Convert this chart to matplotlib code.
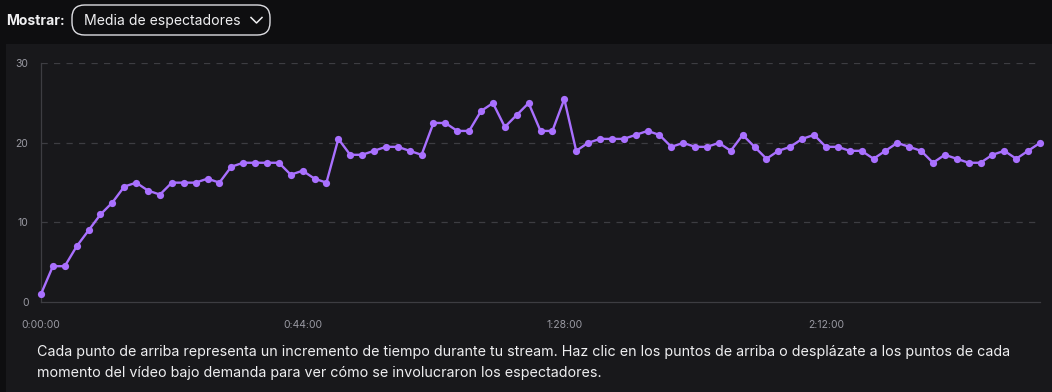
import matplotlib.pyplot as plt
import numpy as np
from matplotlib.patches import FancyBboxPatch, Rectangle
from matplotlib.ticker import FixedLocator, FuncFormatter

plt.rcParams['font.family'] = ['Inter', 'DejaVu Sans']

# media de espectadores, un punto cada 2 minutos
minutes_step = 2
viewers = [1, 4.5, 4.5, 7, 9, 11, 12.5, 14.5, 15, 14, 13.5, 15, 15, 15, 15.5, 15,
           17, 17.5, 17.5, 17.5, 17.5, 16, 16.5, 15.5, 15, 20.5, 18.5, 18.5, 19, 19.5,
           19.5, 19, 18.5, 22.5, 22.5, 21.5, 21.5, 24, 25, 22, 23.5, 25, 21.5, 21.5,
           25.5, 19, 20, 20.5, 20.5, 20.5, 21, 21.5, 21, 19.5, 20, 19.5, 19.5, 20, 19,
           21, 19.5, 18, 19, 19.5, 20.5, 21, 19.5, 19.5, 19, 19, 18, 19, 20, 19.5, 19,
           17.5, 18.5, 18, 17.5, 17.5, 18.5, 19, 18, 19, 20]
x_ticks = [0, 44, 88, 132]
y_ticks = [0, 10, 20, 30]

header_label = 'Mostrar:'
dropdown_label = 'Media de espectadores'
caption = ['Cada punto de arriba representa un incremento de tiempo durante tu stream. Haz clic en los puntos de arriba o desplázate a los puntos de cada',
           'momento del vídeo bajo demanda para ver cómo se involucraron los espectadores.']

W, H = 1052, 392
fig = plt.figure(figsize=(W / 100, H / 100), dpi=100)
fig.patch.set_facecolor('#0e0e10')

# panel del grafico
fig.patches.append(Rectangle((6 / W, 0), 1, (H - 44) / H, transform=fig.transFigure,
                             facecolor='#18181b', edgecolor='none', zorder=-1))

ax = fig.add_axes([41 / W, 90 / H, (1040 - 41) / W, (302 - 63.3) / H])
ax.set_facecolor('none')
ax.set_zorder(2)

t = np.arange(len(viewers)) * minutes_step
ax.plot(t, viewers, color='#a970ff', linewidth=1.7, marker='o', markersize=5.2,
        markeredgewidth=0, clip_on=False, zorder=3)

ax.set_xlim(0, t[-1])
ax.set_ylim(0, 30)
ax.xaxis.set_major_locator(FixedLocator(x_ticks))
ax.yaxis.set_major_locator(FixedLocator(y_ticks))
ax.xaxis.set_major_formatter(FuncFormatter(lambda v, p: f'{int(v) // 60}:{int(v) % 60:02d}:00'))

for y in y_ticks[1:]:
    ax.axhline(y, color='#3d3d42', linewidth=0.9, linestyle=(0, (5, 5)), zorder=1)

for s in ['top', 'right']:
    ax.spines[s].set_visible(False)
for s in ['left', 'bottom']:
    ax.spines[s].set_color('#3d3d42')
    ax.spines[s].set_linewidth(0.9)
ax.tick_params(axis='both', length=0, colors='#9a9aa3', labelsize=7.5)
ax.tick_params(axis='x', pad=13)
ax.tick_params(axis='y', pad=9)

# cabecera con el selector
fig.text(6 / W, 1 - 21 / H, header_label, color='#efeff1', fontsize=10, fontweight='bold',
         va='center', ha='left')
fig.patches.append(FancyBboxPatch((72 / W, 1 - 35 / H), (270 - 72) / W, 30 / H,
                                  boxstyle='round,pad=0,rounding_size=0.012',
                                  transform=fig.transFigure, facecolor='#0e0e10',
                                  edgecolor='#dedee3', linewidth=1.0, mutation_aspect=W / H))
fig.text(84 / W, 1 - 20.5 / H, dropdown_label, color='#efeff1', fontsize=10.1,
         va='center', ha='left')
fig.lines.append(plt.Line2D([251 / W, 256.5 / W, 262 / W], [1 - 17.5 / H, 1 - 23 / H, 1 - 17.5 / H],
                            transform=fig.transFigure, color='#efeff1', linewidth=1.1))

fig.text(37 / W, 1 - 352 / H, caption[0], color='#efeff1', fontsize=10.3, va='center', ha='left')
fig.text(37 / W, 1 - 373 / H, caption[1], color='#efeff1', fontsize=10.3, va='center', ha='left')

fig.savefig('out.png', dpi=100, facecolor=fig.get_facecolor())
